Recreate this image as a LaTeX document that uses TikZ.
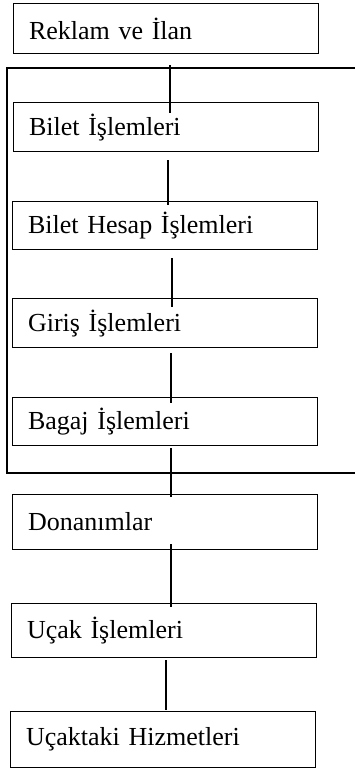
\documentclass[tikz,border=0pt]{standalone}
\usepackage{fontspec}
\setmainfont{Liberation Serif}
\begin{document}
\begin{tikzpicture}[x=1pt,y=-1pt,
  stepbox/.style={draw, line width=1.1pt, rectangle, anchor=north west,
    text width=274pt, align=left, inner xsep=15.5pt, inner ysep=0pt,
    font=\fontsize{26}{28}\selectfont},
  link/.style={line width=1.5pt},
  frame/.style={line width=1.8pt}]
\useasboundingbox (0,0) rectangle (355,769);
\node[stepbox, minimum height=50pt] (b1) at (13,3) {Reklam ve İlan};
\node[stepbox, minimum height=49pt] (b2) at (13,102) {Bilet İşlemleri};
\node[stepbox, minimum height=48pt] (b3) at (12,201) {Bilet Hesap İşlemleri};
\node[stepbox, minimum height=49pt] (b4) at (12,298) {Giriş İşlemleri};
\node[stepbox, minimum height=48pt] (b5) at (12,397) {Bagaj İşlemleri};
\node[stepbox, minimum height=55pt] (b6) at (12,494) {Donanımlar};
\node[stepbox, minimum height=54pt] (b7) at (11,603) {Uçak İşlemleri};
\node[stepbox, minimum height=56pt] (b8) at (10,711) {Uçaktaki Hizmetleri};
% group bracket
\coordinate (ftr) at (355,68);
\coordinate (ftl) at (7,68);
\coordinate (fbl) at (7,473);
\coordinate (fbr) at (355,473);
\draw[frame] (ftr) -- (ftl) -- (fbl) -- (fbr);
% connectors
\coordinate (l1a) at (170,65);  \coordinate (l1b) at (170,113);
\coordinate (l2a) at (168,160); \coordinate (l2b) at (168,205);
\coordinate (l3a) at (172,258); \coordinate (l3b) at (172,307);
\coordinate (l4a) at (171,353); \coordinate (l4b) at (171,403);
\coordinate (l5a) at (171,448); \coordinate (l5b) at (171,497);
\coordinate (l6a) at (171,544); \coordinate (l6b) at (171,607);
\coordinate (l7a) at (166,660); \coordinate (l7b) at (166,710);
\draw[link] (l1a) -- (l1b);
\draw[link] (l2a) -- (l2b);
\draw[link] (l3a) -- (l3b);
\draw[link] (l4a) -- (l4b);
\draw[link] (l5a) -- (l5b);
\draw[link] (l6a) -- (l6b);
\draw[link] (l7a) -- (l7b);
\end{tikzpicture}
\end{document}
